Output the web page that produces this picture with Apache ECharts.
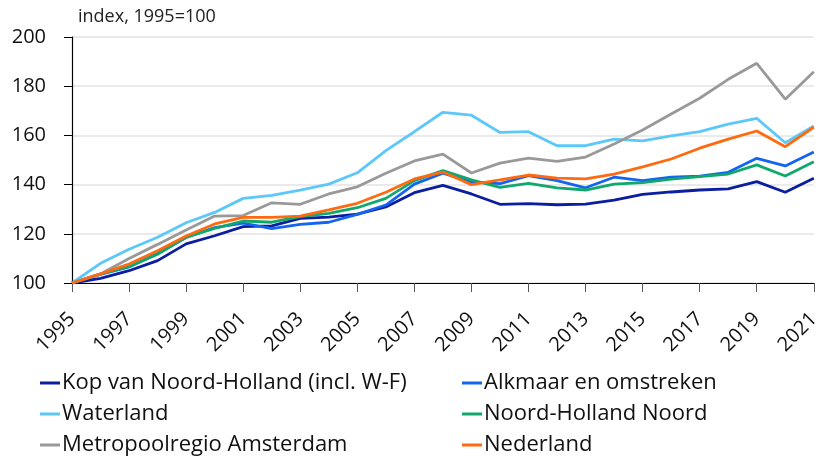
<!DOCTYPE html>
<html>
<head>
<meta charset="utf-8">
<script src="https://cdn.jsdelivr.net/npm/echarts@6/dist/echarts.min.js"></script>
<style>
  html, body { margin: 0; padding: 0; background: #fff; }
  #main { width: 823px; height: 458px; }
</style>
</head>
<body>
<div id="main"></div>
<script>
const years = ['1995', '1996', '1997', '1998', '1999', '2000', '2001', '2002', '2003', '2004', '2005', '2006', '2007',
  '2008', '2009', '2010', '2011', '2012', '2013', '2014', '2015', '2016', '2017', '2018', '2019', '2020', '2021']

const kop = [100, 101.9, 105, 109.1, 115.9, 119.2, 122.9, 123.2, 126.3, 126.8, 128, 130.9, 136.7,
  139.7, 136.2, 132, 132.3, 131.8, 132.1, 133.7, 136, 137, 137.8, 138.3, 141.2, 136.9, 142.6]
const alkmaar = [100, 103.5, 106.5, 112, 118.5, 122.5, 124.3, 122.1, 123.8, 124.7, 127.9, 131.7, 140.2,
  144.6, 141, 140.4, 143.6, 141.6, 138.7, 143, 141.6, 143, 143.4, 145, 150.7, 147.6, 153.3]
const waterland = [100, 108, 113.7, 118.6, 124.5, 128.7, 134.4, 135.6, 137.8, 140.2, 144.8, 153.8, 161.5,
  169.4, 168.2, 161.2, 161.5, 155.8, 155.8, 158.5, 157.8, 159.8, 161.5, 164.6, 166.9, 157, 163.8]
const nhn = [100, 103.7, 106.6, 111.7, 118.6, 122.2, 125.2, 124.7, 127, 128.3, 130.6, 134.4, 141.6,
  145.7, 141.9, 138.9, 140.5, 138.7, 137.8, 140.2, 140.8, 142.2, 143.2, 144.3, 148, 143.5, 149.3]
const mra = [100, 103.7, 110, 115.7, 121.5, 127.2, 127.4, 132.6, 132, 136.2, 139.1, 144.6, 149.6,
  152.4, 144.7, 148.7, 150.8, 149.4, 151.2, 156.5, 162.2, 168.7, 175.1, 182.8, 189.3, 174.7, 185.9]
const nederland = [100, 103.7, 107.7, 113.1, 119.1, 124, 126.7, 126.7, 127.2, 129.7, 132.4, 136.9, 142.3,
  145.1, 140, 141.9, 143.9, 142.6, 142.3, 144.3, 147.2, 150.4, 154.8, 158.5, 161.8, 155.4, 163.3]

const yTicks = [100, 120, 140, 160, 180, 200]

const chart = echarts.init(document.getElementById('main'))
const font = 'Open Sans'

const series = [
  { name: 'Kop van Noord-Holland (incl. W-F)', data: kop, color: '#0b1ea0' },
  { name: 'Alkmaar en omstreken', data: alkmaar, color: '#1464f0' },
  { name: 'Waterland', data: waterland, color: '#5cc8fa' },
  { name: 'Noord-Holland Noord', data: nhn, color: '#11a86e' },
  { name: 'Metropoolregio Amsterdam', data: mra, color: '#999999' },
  { name: 'Nederland', data: nederland, color: '#ff6a10' }
].map(s => ({
  name: s.name,
  type: 'line',
  data: s.data,
  symbol: 'none',
  color: s.color,
  lineStyle: { width: 2.8, color: s.color }
}))

const legendBase = {
  orient: 'vertical',
  top: 371,
  padding: 0,
  icon: 'rect',
  itemWidth: 20,
  itemHeight: 3,
  itemGap: 7,
  selectedMode: false,
  textStyle: { fontFamily: font, fontSize: 22, color: '#111', lineHeight: 24, padding: [0, 0, 0, -3] }
}

chart.setOption({
  animation: false,
  title: {
    text: 'index, 1995=100',
    left: 73,
    top: 3,
    textStyle: { fontFamily: font, fontSize: 18, fontWeight: 'normal', color: '#222' }
  },
  legend: [
    Object.assign({}, legendBase, { left: 40, data: [series[0].name, series[2].name, series[4].name] }),
    Object.assign({}, legendBase, { left: 462, data: [series[1].name, series[3].name, series[5].name] })
  ],
  grid: { left: 72, right: 3, top: 37, bottom: 175 },
  xAxis: {
    type: 'category',
    data: years,
    boundaryGap: false,
    axisLine: { lineStyle: { color: '#000', width: 1.2 } },
    axisTick: { interval: 1, length: 9, lineStyle: { color: '#555' } },
    axisLabel: { interval: 1, rotate: 45, fontFamily: font, fontSize: 20, color: '#111', margin: 33 }
  },
  yAxis: {
    type: 'value',
    min: yTicks[0],
    max: yTicks[yTicks.length - 1],
    interval: 20,
    axisLine: { show: true, lineStyle: { color: '#000', width: 1.2 } },
    axisTick: { show: true, length: 8, lineStyle: { color: '#000' } },
    axisLabel: { fontFamily: font, fontSize: 20, color: '#111', margin: 26 },
    splitLine: { lineStyle: { color: '#e3e3e3', width: 1.5 } }
  },
  series: series
})
</script>
</body>
</html>
